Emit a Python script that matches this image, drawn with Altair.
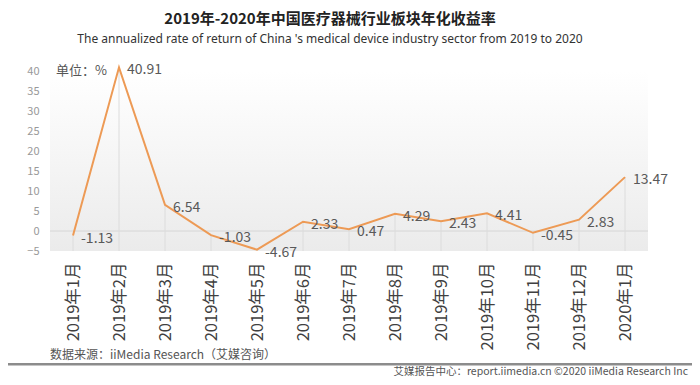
import altair as alt
import pandas as pd

months = ["2019年1月", "2019年2月", "2019年3月", "2019年4月", "2019年5月", "2019年6月",
          "2019年7月", "2019年8月", "2019年9月", "2019年10月", "2019年11月", "2019年12月",
          "2020年1月"]
values = [-1.13, 40.91, 6.54, -1.03, -4.67, 2.33, 0.47, 4.29, 2.43, 4.41, -0.45, 2.83, 13.47]
y_ticks = [-5, 0, 5, 10, 15, 20, 25, 30, 35, 40]

df = pd.DataFrame({"month": months, "value": values, "label": [f"{v:.2f}" for v in values]})
one = pd.DataFrame({"a": [0]})

W, H = 598, 180
FONT = "Noto Sans CJK SC"

x = alt.X("month:N", sort=months, scale=alt.Scale(type="point", padding=0.5),
          axis=alt.Axis(title=None, labelAngle=-90, ticks=False, domain=False, grid=False,
                        labelPadding=11, labelFontSize=16.5, labelColor="#404040", labelFont=FONT))
y = alt.Y("value:Q", scale=alt.Scale(domain=[-5, 40], nice=False, zero=False),
          axis=alt.Axis(title=None, values=y_ticks, ticks=False, domain=False, grid=False,
                        labelOverlap=False, labelPadding=11, labelFontSize=11,
                        labelColor="#999999", labelFont=FONT))

bg = alt.Chart(one).mark_rect(
    fill=alt.Gradient(gradient="linear",
                      stops=[alt.GradientStop(color="#ffffff", offset=0),
                             alt.GradientStop(color="#ebebeb", offset=1)],
                      x1=0, x2=0, y1=0, y2=1)
).encode(x=alt.value(0), x2=alt.value(W), y=alt.value(0), y2=alt.value(H))

drops = alt.Chart(df).mark_rule(color="#dcdcdc", strokeWidth=1).encode(x=x, y=y, y2=alt.value(H))

zero_df = pd.DataFrame({"value": [0]})
zero = alt.Chart(zero_df).mark_rule(color="#d6d6d6", strokeWidth=1).encode(
    y=y, x=alt.value(0), x2=alt.value(W))

line = alt.Chart(df).mark_line(color="#ED9A55", strokeWidth=2).encode(x=x, y=y)

labels = alt.Chart(df).mark_text(align="left", baseline="middle", dx=8, dy=3, fontSize=14,
                                 color="#595959", font=FONT).encode(x=x, y=y, text="label:N")

unit = alt.Chart(one).mark_text(align="left", baseline="middle", fontSize=13, color="#555555",
                                font=FONT).encode(x=alt.value(6), y=alt.value(0),
                                                  text=alt.value("单位：%"))

source = alt.Chart(one).mark_text(align="left", baseline="middle", fontSize=12, color="#555555",
                                  font=FONT).encode(x=alt.value(0), y=alt.value(284),
                                                    text=alt.value("数据来源：iiMedia Research（艾媒咨询）"))

footline = alt.Chart(one).mark_rect(color="#8c8c8c").encode(
    x=alt.value(-42), x2=alt.value(642), y=alt.value(292), y2=alt.value(294.5))

foot = alt.Chart(one).mark_text(align="right", baseline="middle", fontSize=10.5, color="#555555",
                                font=FONT).encode(x=alt.value(638), y=alt.value(301),
                                                  text=alt.value("艾媒报告中心：report.iimedia.cn  ©2020  iiMedia Research Inc"))

chart = alt.layer(bg, zero, drops, line, labels, unit, source, footline, foot).properties(
    width=W, height=H,
    autosize=alt.AutoSizeParams(type="none"),
    padding={"left": 42, "top": 63, "right": 44, "bottom": 126},
    title=alt.TitleParams(
        text="2019年-2020年中国医疗器械行业板块年化收益率",
        subtitle="The annualized rate of return of China   's medical device industry sector from 2019 to 2020",
        fontSize=15, font=FONT, fontWeight="bold", color="#222222",
        subtitleFontSize=12, subtitleColor="#333333",
        subtitleFont="Liberation Sans Narrow, Noto Sans",
        anchor="middle", dx=-19, offset=18, subtitlePadding=7),
).configure_view(strokeWidth=0).configure_axisY(labelOverlap=False)

chart.save("out.html", embed_options={"renderer": "svg", "actions": False})
